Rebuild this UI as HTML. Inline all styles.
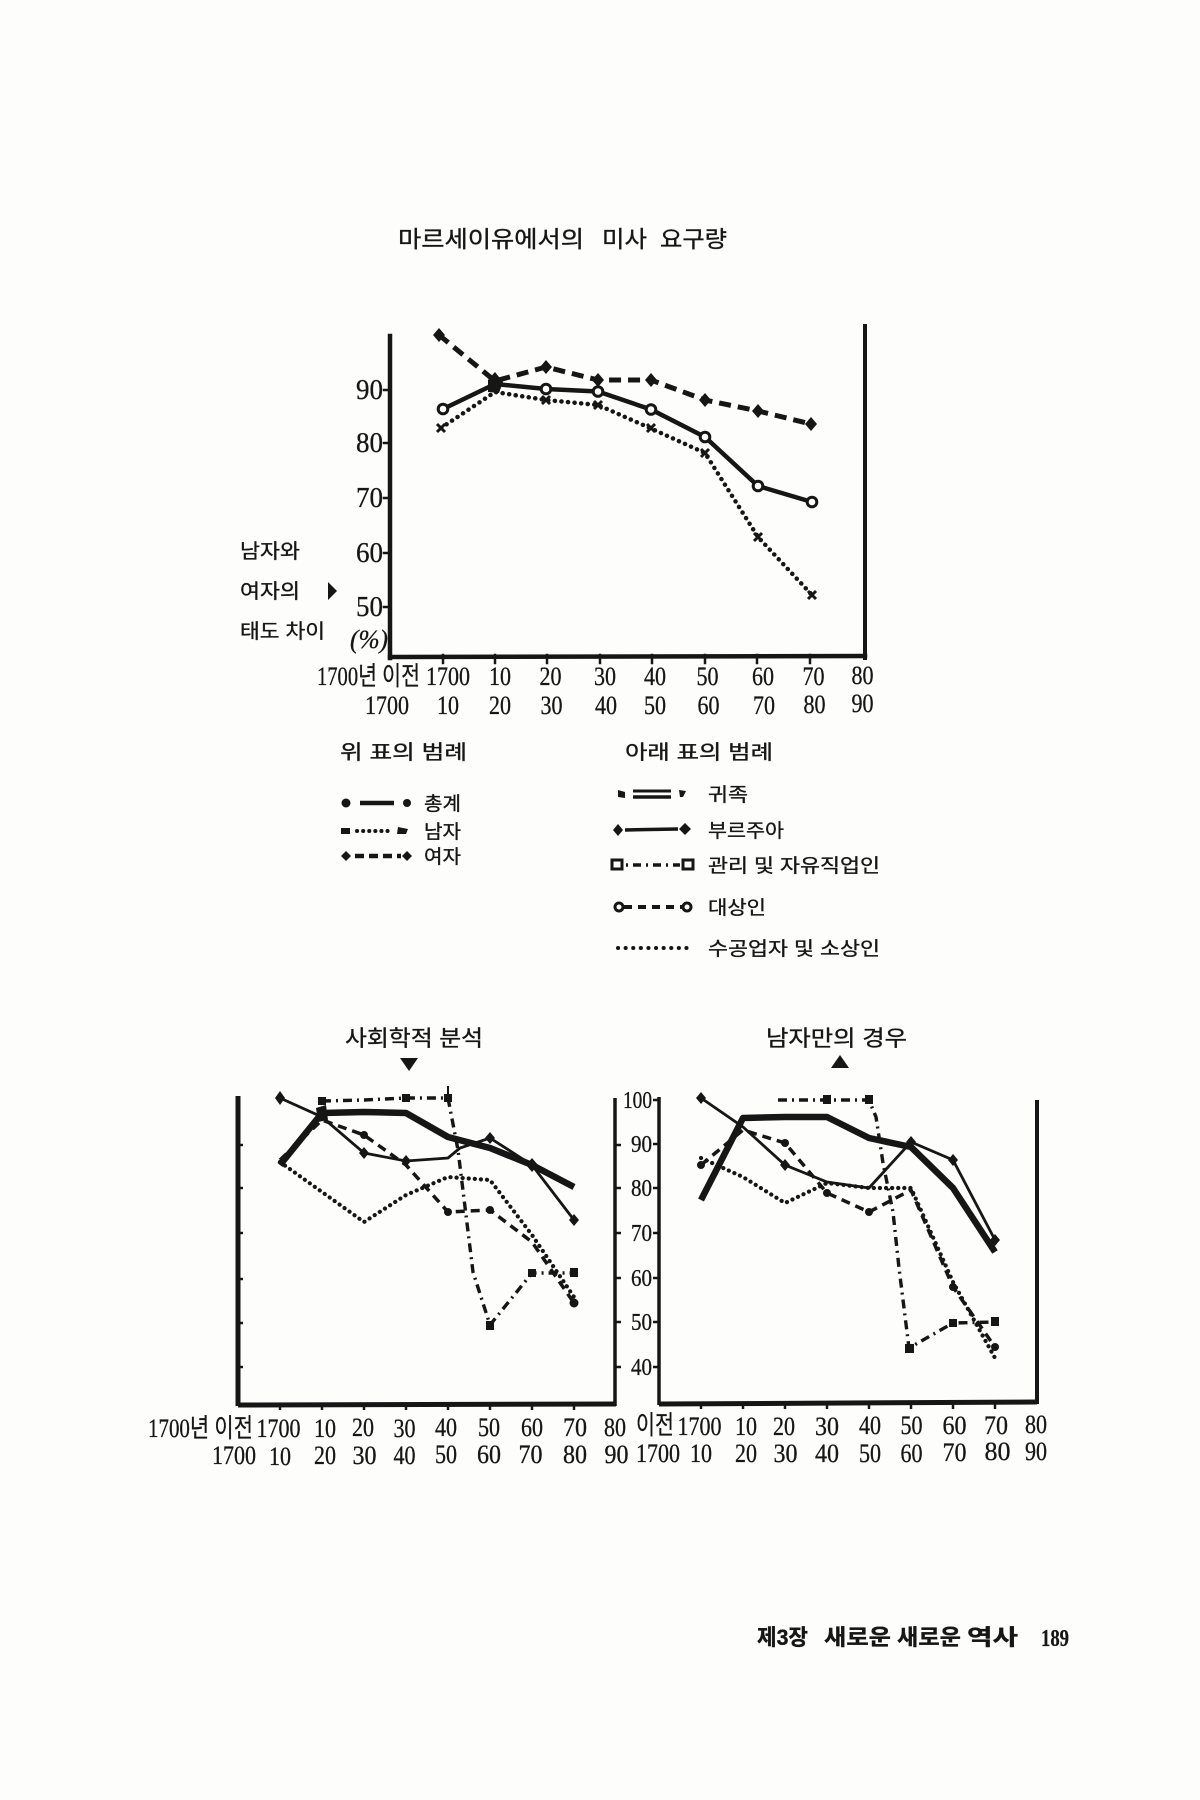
<!DOCTYPE html>
<html><head><meta charset="utf-8"><style>
html,body{margin:0;padding:0;background:#fdfdfc;}
svg{display:block;}
.k{font-family:"Liberation Sans","Noto Sans CJK KR",sans-serif;fill:#161616;stroke:#161616;stroke-width:0.35;}
.n{font-family:"Liberation Serif","Noto Sans CJK KR",serif;fill:#161616;stroke:#161616;stroke-width:0.3;}
</style></head><body>
<svg width="1200" height="1800" viewBox="0 0 1200 1800" xmlns="http://www.w3.org/2000/svg">
<rect width="1200" height="1800" fill="#fdfdfc"/>

<!-- TOP TITLE -->
<text class="k" x="398" y="247" font-size="23" textLength="186" lengthAdjust="spacingAndGlyphs">마르세이유에서의</text>
<text class="k" x="602" y="247" font-size="23" textLength="45" lengthAdjust="spacingAndGlyphs">미사</text>
<text class="k" x="660" y="247" font-size="23" textLength="67" lengthAdjust="spacingAndGlyphs">요구량</text>

<!-- TOP CHART AXES -->
<g stroke="#161616" fill="none" stroke-linecap="square">
<line x1="390" y1="336" x2="390" y2="658" stroke-width="4.5"/>
<line x1="865" y1="326" x2="865" y2="658" stroke-width="4"/>
<line x1="390" y1="657" x2="865" y2="656" stroke-width="4.5"/>
<g stroke-width="2.5">
<line x1="384" y1="390" x2="390" y2="390"/><line x1="384" y1="443" x2="390" y2="443"/>
<line x1="384" y1="498" x2="390" y2="498"/><line x1="384" y1="553" x2="390" y2="553"/>
<line x1="384" y1="607" x2="390" y2="607"/>
<line x1="443" y1="655" x2="443" y2="663"/><line x1="495" y1="655" x2="495" y2="663"/>
<line x1="547" y1="655" x2="547" y2="663"/><line x1="600" y1="655" x2="600" y2="663"/>
<line x1="652" y1="655" x2="652" y2="663"/><line x1="705" y1="655" x2="705" y2="663"/>
<line x1="757" y1="655" x2="757" y2="663"/><line x1="810" y1="655" x2="810" y2="663"/>
</g>
</g>

<!-- top y labels -->
<g class="n" font-size="28" text-anchor="end">
<text x="383" y="399" textLength="27" lengthAdjust="spacingAndGlyphs">90</text>
<text x="383" y="452" textLength="27" lengthAdjust="spacingAndGlyphs">80</text>
<text x="383" y="507" textLength="27" lengthAdjust="spacingAndGlyphs">70</text>
<text x="383" y="562" textLength="27" lengthAdjust="spacingAndGlyphs">60</text>
<text x="383" y="616" textLength="27" lengthAdjust="spacingAndGlyphs">50</text>
</g>
<text class="n" x="350" y="648" font-size="26" font-style="italic" textLength="38" lengthAdjust="spacingAndGlyphs">(%)</text>

<!-- left labels -->
<text class="k" x="240" y="558" font-size="20" textLength="60" lengthAdjust="spacingAndGlyphs">남자와</text>
<text class="k" x="240" y="598" font-size="20" textLength="60" lengthAdjust="spacingAndGlyphs">여자의</text>
<path d="M328,582 L337,591 L328,600 Z" fill="#161616"/>
<text class="k" x="240" y="638" font-size="20" textLength="85" lengthAdjust="spacingAndGlyphs">태도 차이</text>

<!-- top series -->
<polyline points="439,335 495,381 546,367 598,380 651,380 705,400 758,411 811,424" fill="none" stroke="#161616" stroke-width="5" stroke-dasharray="12 7"/>
<polyline points="441,428 495,392 546,400 598,405 651,428.5 705,453 758,537 812,595" fill="none" stroke="#161616" stroke-width="4.5" stroke-dasharray="0.1 6.5" stroke-linecap="round"/>
<polyline points="443,409 495,384 546,389 598,391.5 651,409.5 705,437 758,486 812,502" fill="none" stroke="#161616" stroke-width="4.5"/>
<!-- female diamonds -->
<g fill="#161616">
<path d="M439,328 L445,335 L439,342 L433,335Z"/>
<path d="M546,360 L552,367 L546,374 L540,367Z"/>
<path d="M598,373 L604,380 L598,387 L592,380Z"/>
<path d="M651,373 L657,380 L651,387 L645,380Z"/>
<path d="M705,393 L711,400 L705,407 L699,400Z"/>
<path d="M758,404 L764,411 L758,418 L752,411Z"/>
<path d="M811,417 L817,424 L811,431 L805,424Z"/>
<path d="M488,380 L495,372 L503,382 L499,393 L488,392Z"/>
</g>
<!-- male x marks -->
<g stroke="#161616" stroke-width="3">
<path d="M437,424 L445,432 M445,424 L437,432"/>
<path d="M542,396 L550,404 M550,396 L542,404"/>
<path d="M594,401 L602,409 M602,401 L594,409"/>
<path d="M647,424 L655,432 M655,424 L647,432"/>
<path d="M701,449 L709,457 M709,449 L701,457"/>
<path d="M754,533 L762,541 M762,533 L754,541"/>
<path d="M808,591 L816,599 M816,591 L808,599"/>
</g>
<!-- total circles -->
<g fill="#fdfdfc" stroke="#161616" stroke-width="3">
<circle cx="443" cy="409" r="4.8"/>
<circle cx="546" cy="389" r="4.8"/>
<circle cx="598" cy="391.5" r="4.8"/>
<circle cx="651" cy="409.5" r="4.8"/>
<circle cx="705" cy="437" r="4.8"/>
<circle cx="758" cy="486" r="4.8"/>
<circle cx="812" cy="502" r="4.8"/>
</g>

<!-- top x labels -->
<g class="n" font-size="26" text-anchor="middle">
<text x="448" y="685" textLength="44" lengthAdjust="spacingAndGlyphs">1700</text>
<text x="500" y="685" textLength="22" lengthAdjust="spacingAndGlyphs">10</text>
<text x="550.5" y="685" textLength="22" lengthAdjust="spacingAndGlyphs">20</text>
<text x="605" y="685" textLength="22" lengthAdjust="spacingAndGlyphs">30</text>
<text x="655" y="685" textLength="22" lengthAdjust="spacingAndGlyphs">40</text>
<text x="707.5" y="685" textLength="22" lengthAdjust="spacingAndGlyphs">50</text>
<text x="763" y="685" textLength="22" lengthAdjust="spacingAndGlyphs">60</text>
<text x="813.5" y="685" textLength="22" lengthAdjust="spacingAndGlyphs">70</text>
<text x="862.5" y="684" textLength="22" lengthAdjust="spacingAndGlyphs">80</text>
<text x="387" y="714" textLength="44" lengthAdjust="spacingAndGlyphs">1700</text>
<text x="448" y="714" textLength="22" lengthAdjust="spacingAndGlyphs">10</text>
<text x="500" y="714" textLength="22" lengthAdjust="spacingAndGlyphs">20</text>
<text x="551.5" y="714" textLength="22" lengthAdjust="spacingAndGlyphs">30</text>
<text x="606" y="714" textLength="22" lengthAdjust="spacingAndGlyphs">40</text>
<text x="655" y="714" textLength="22" lengthAdjust="spacingAndGlyphs">50</text>
<text x="708.5" y="714" textLength="22" lengthAdjust="spacingAndGlyphs">60</text>
<text x="764" y="714" textLength="22" lengthAdjust="spacingAndGlyphs">70</text>
<text x="814.5" y="713" textLength="22" lengthAdjust="spacingAndGlyphs">80</text>
<text x="862.5" y="712" textLength="22" lengthAdjust="spacingAndGlyphs">90</text>
</g>
<text class="n" x="317" y="685" font-size="26" textLength="103" lengthAdjust="spacingAndGlyphs">1700년 이전</text>

<!-- LEGENDS -->
<text class="k" x="340" y="759" font-size="20" textLength="127" lengthAdjust="spacingAndGlyphs">위 표의 범례</text>
<text class="k" x="625" y="759" font-size="20" textLength="148" lengthAdjust="spacingAndGlyphs">아래 표의 범례</text>

<g stroke="#161616" fill="#161616">
<!-- 총계 -->
<circle cx="346" cy="803" r="4.5" stroke="none"/>
<line x1="360" y1="803" x2="394" y2="803" stroke-width="4.5"/>
<circle cx="407" cy="803" r="4" stroke="none"/>
<!-- 남자 -->
<path d="M341,828 L350,828 L350,834 L341,834Z" stroke="none"/>
<line x1="357" y1="831" x2="393" y2="831" stroke-width="4" stroke-dasharray="0.1 6" stroke-linecap="round"/>
<path d="M398,827 L408,829 L406,834 L397,834Z" stroke="none"/>
<!-- 여자 -->
<path d="M346,851 L351,856 L346,861 L341,856Z" stroke="none"/>
<line x1="355" y1="856" x2="401" y2="856" stroke-width="4.5" stroke-dasharray="9 5"/>
<path d="M407,851 L412,856 L407,861 L402,856Z" stroke="none"/>
<!-- 귀족 -->
<path d="M618,790 L625,792 L625,798 L618,797Z" stroke="none"/>
<line x1="633" y1="791" x2="671" y2="791" stroke-width="3"/>
<line x1="633" y1="797" x2="671" y2="797" stroke-width="3.5"/>
<path d="M679,790 L686,791 L683,797 L680,797Z" stroke="none"/>
<!-- 부르주아 -->
<path d="M618,824 L623,830 L618,836 L613,830Z" stroke="none"/>
<line x1="625" y1="830" x2="678" y2="829" stroke-width="3.5"/>
<path d="M685,823 L691,829 L685,835 L679,829Z" stroke="none"/>
<!-- 관리 -->
<rect x="612" y="860" width="10" height="9" fill="#fdfdfc" stroke-width="3"/>
<line x1="626" y1="865" x2="680" y2="865" stroke-width="3.5" stroke-dasharray="2 5 8 5"/>
<rect x="683" y="860" width="10" height="9" fill="#fdfdfc" stroke-width="3"/>
<!-- 대상인 -->
<circle cx="619" cy="907" r="4" fill="#fdfdfc" stroke-width="3"/>
<line x1="624" y1="907" x2="682" y2="907" stroke-width="4" stroke-dasharray="8 6"/>
<circle cx="687" cy="907" r="4" fill="#fdfdfc" stroke-width="3"/>
<!-- 수공업 -->
<line x1="618" y1="948" x2="693" y2="948" stroke-width="4" stroke-dasharray="0.1 7.5" stroke-linecap="round"/>
</g>
<g class="k" font-size="19">
<text x="424" y="810" textLength="37" lengthAdjust="spacingAndGlyphs">총계</text>
<text x="424" y="838" textLength="37" lengthAdjust="spacingAndGlyphs">남자</text>
<text x="424" y="863" textLength="37" lengthAdjust="spacingAndGlyphs">여자</text>
<text x="708" y="801" textLength="40" lengthAdjust="spacingAndGlyphs">귀족</text>
<text x="708" y="837" textLength="76" lengthAdjust="spacingAndGlyphs">부르주아</text>
<text x="708" y="872" textLength="172" lengthAdjust="spacingAndGlyphs">관리 및 자유직업인</text>
<text x="708" y="914" textLength="58" lengthAdjust="spacingAndGlyphs">대상인</text>
<text x="708" y="955" textLength="172" lengthAdjust="spacingAndGlyphs">수공업자 및 소상인</text>
</g>

<!-- BOTTOM TITLES -->
<text class="k" x="345" y="1046" font-size="22" textLength="138" lengthAdjust="spacingAndGlyphs">사회학적 분석</text>
<path d="M400,1058 L418,1058 L409,1071 Z" fill="#161616"/>
<text class="k" x="766" y="1046" font-size="22" textLength="141" lengthAdjust="spacingAndGlyphs">남자만의 경우</text>
<path d="M840,1055 L849,1068 L831,1068 Z" fill="#161616"/>

<!-- BOTTOM AXES -->
<g stroke="#161616" fill="none">
<line x1="238" y1="1096" x2="238" y2="1406" stroke-width="5"/>
<line x1="615" y1="1098" x2="615" y2="1406" stroke-width="3.5"/>
<line x1="238" y1="1405" x2="616" y2="1404" stroke-width="5"/>
<line x1="659" y1="1097" x2="659" y2="1405" stroke-width="3.5"/>
<line x1="1037" y1="1100" x2="1037" y2="1404" stroke-width="4"/>
<line x1="659" y1="1404" x2="1037" y2="1402" stroke-width="5"/>
<g stroke-width="2.5">
<line x1="238" y1="1145" x2="243" y2="1145"/><line x1="238" y1="1188" x2="243" y2="1188"/>
<line x1="238" y1="1233" x2="243" y2="1233"/><line x1="238" y1="1279" x2="243" y2="1279"/>
<line x1="238" y1="1323" x2="243" y2="1323"/><line x1="238" y1="1367" x2="243" y2="1367"/>
<line x1="615" y1="1145" x2="621" y2="1145"/><line x1="615" y1="1188" x2="621" y2="1188"/>
<line x1="615" y1="1233" x2="621" y2="1233"/><line x1="615" y1="1278" x2="621" y2="1278"/>
<line x1="615" y1="1322" x2="621" y2="1322"/><line x1="615" y1="1367" x2="621" y2="1367"/>
<line x1="653" y1="1100" x2="659" y2="1100"/>
<line x1="653" y1="1144" x2="659" y2="1144"/><line x1="653" y1="1188" x2="659" y2="1188"/>
<line x1="653" y1="1233" x2="659" y2="1233"/><line x1="653" y1="1278" x2="659" y2="1278"/>
<line x1="653" y1="1322" x2="659" y2="1322"/><line x1="653" y1="1367" x2="659" y2="1367"/>
<line x1="280" y1="1403" x2="280" y2="1410"/><line x1="322" y1="1403" x2="322" y2="1410"/>
<line x1="364" y1="1403" x2="364" y2="1410"/><line x1="406" y1="1403" x2="406" y2="1410"/>
<line x1="448" y1="1403" x2="448" y2="1410"/><line x1="490" y1="1403" x2="490" y2="1410"/>
<line x1="532" y1="1403" x2="532" y2="1410"/><line x1="574" y1="1403" x2="574" y2="1410"/>
<line x1="701" y1="1402" x2="701" y2="1409"/><line x1="743" y1="1402" x2="743" y2="1409"/>
<line x1="785" y1="1402" x2="785" y2="1409"/><line x1="827" y1="1402" x2="827" y2="1409"/>
<line x1="869" y1="1402" x2="869" y2="1409"/><line x1="911" y1="1402" x2="911" y2="1409"/>
<line x1="953" y1="1402" x2="953" y2="1409"/><line x1="995" y1="1402" x2="995" y2="1409"/>
</g>
</g>

<!-- bottom y labels -->
<g class="n" font-size="24" text-anchor="end">
<text x="652" y="1108" textLength="29" lengthAdjust="spacingAndGlyphs">100</text>
<text x="652" y="1152" textLength="21" lengthAdjust="spacingAndGlyphs">90</text>
<text x="652" y="1196" textLength="21" lengthAdjust="spacingAndGlyphs">80</text>
<text x="652" y="1241" textLength="21" lengthAdjust="spacingAndGlyphs">70</text>
<text x="652" y="1286" textLength="21" lengthAdjust="spacingAndGlyphs">60</text>
<text x="652" y="1330" textLength="21" lengthAdjust="spacingAndGlyphs">50</text>
<text x="652" y="1375" textLength="21" lengthAdjust="spacingAndGlyphs">40</text>
</g>

<!-- LEFT BOTTOM SERIES -->
<g fill="none" stroke="#161616">
<polyline points="280,1162 322,1192 364,1222 406,1195 448,1177 490,1180 532,1235 574,1297" stroke-width="4.2" stroke-dasharray="0.1 6" stroke-linecap="round"/>
<polyline points="280,1160 322,1120 364,1135 406,1165 448,1212 490,1210 532,1242 574,1303" stroke-width="3.5" stroke-dasharray="9 6"/>
<polyline points="322,1101 364,1100 406,1098 448,1098 458,1150 473,1272 490,1325 532,1273 574,1273" stroke-width="3.4" stroke-dasharray="9 5 2 5"/>
<line x1="448" y1="1086" x2="448" y2="1100" stroke-width="2"/>
<polyline points="280,1098 322,1117 364,1153 406,1161 448,1158 460,1148 490,1138 532,1165 574,1220" stroke-width="2.8"/>
<polyline points="280,1165 322,1113 364,1112 406,1113 448,1137 490,1148 532,1165 574,1187" stroke-width="6.5" stroke-linejoin="round"/>
</g>
<g fill="#161616">
<rect x="318" y="1097" width="8" height="8"/><rect x="402" y="1094" width="8" height="8"/><rect x="444" y="1094" width="8" height="8"/>
<rect x="486" y="1321" width="8" height="9"/><rect x="528" y="1269" width="8" height="8"/><rect x="570" y="1268" width="8" height="9"/>
<circle cx="364" cy="1135" r="4"/><circle cx="448" cy="1212" r="4"/><circle cx="490" cy="1210" r="4"/><circle cx="574" cy="1303" r="4.5"/>
<path d="M280,1091 L285,1098 L280,1105 L275,1098Z"/><path d="M364,1147 L369,1153 L364,1159 L359,1153Z"/>
<path d="M406,1155 L411,1161 L406,1167 L401,1161Z"/><path d="M490,1132 L495,1138 L490,1144 L485,1138Z"/>
<path d="M532,1158 L538,1165 L532,1172 L526,1165Z"/><path d="M574,1214 L579,1220 L574,1226 L569,1220Z"/>
<path d="M316,1108 L326,1105 L328,1120 L318,1122Z"/>
</g>

<!-- RIGHT BOTTOM SERIES -->
<g fill="none" stroke="#161616">
<polyline points="701,1158 743,1177 785,1203 827,1183 869,1188 911,1188 953,1282 995,1358" stroke-width="4.2" stroke-dasharray="0.1 6" stroke-linecap="round"/>
<polyline points="701,1165 743,1130 785,1143 827,1193 869,1212 911,1190 953,1287 995,1347" stroke-width="3.5" stroke-dasharray="9 6"/>
<polyline points="778,1100 827,1100 869,1100 876,1117 883,1163 893,1212 899,1268 909,1348 953,1323 995,1322" stroke-width="3.4" stroke-dasharray="9 5 2 5"/>
<polyline points="701,1098 743,1127 785,1165 827,1182 869,1188 911,1142 953,1160 995,1240" stroke-width="2.8"/>
<polyline points="701,1200 743,1118 785,1117 827,1117 869,1138 911,1147 953,1188 995,1252" stroke-width="6.5" stroke-linejoin="round"/>
</g>
<g fill="#161616">
<rect x="823" y="1095" width="8" height="9"/><rect x="865" y="1095" width="8" height="9"/>
<rect x="905" y="1344" width="9" height="9"/><rect x="949" y="1319" width="8" height="8"/><rect x="991" y="1317" width="8" height="9"/>
<circle cx="701" cy="1165" r="4"/><circle cx="785" cy="1143" r="4"/><circle cx="827" cy="1193" r="4"/><circle cx="869" cy="1212" r="4"/>
<circle cx="953" cy="1287" r="4"/><circle cx="995" cy="1347" r="4"/>
<path d="M701,1092 L706,1098 L701,1104 L696,1098Z"/><path d="M785,1159 L790,1165 L785,1171 L780,1165Z"/>
<path d="M911,1136 L916,1142 L911,1148 L906,1142Z"/><path d="M953,1154 L958,1160 L953,1166 L948,1160Z"/>
<path d="M995,1234 L1000,1240 L995,1246 L990,1240Z"/>
</g>

<!-- bottom x labels -->
<g class="n" font-size="26" text-anchor="middle">
<text x="278.5" y="1437" textLength="44" lengthAdjust="spacingAndGlyphs">1700</text>
<text x="325" y="1437" textLength="22" lengthAdjust="spacingAndGlyphs">10</text>
<text x="363" y="1436" textLength="22" lengthAdjust="spacingAndGlyphs">20</text>
<text x="404.5" y="1437" textLength="22" lengthAdjust="spacingAndGlyphs">30</text>
<text x="446" y="1436" textLength="22" lengthAdjust="spacingAndGlyphs">40</text>
<text x="489" y="1436" textLength="22" lengthAdjust="spacingAndGlyphs">50</text>
<text x="532" y="1436" textLength="22" lengthAdjust="spacingAndGlyphs">60</text>
<text x="575" y="1436" textLength="24" lengthAdjust="spacingAndGlyphs">70</text>
<text x="615" y="1436" textLength="22" lengthAdjust="spacingAndGlyphs">80</text>
<text x="234" y="1464" textLength="44" lengthAdjust="spacingAndGlyphs">1700</text>
<text x="280" y="1465" textLength="22" lengthAdjust="spacingAndGlyphs">10</text>
<text x="325" y="1464" textLength="22" lengthAdjust="spacingAndGlyphs">20</text>
<text x="364.5" y="1464" textLength="24" lengthAdjust="spacingAndGlyphs">30</text>
<text x="404.5" y="1464" textLength="22" lengthAdjust="spacingAndGlyphs">40</text>
<text x="446" y="1463" textLength="22" lengthAdjust="spacingAndGlyphs">50</text>
<text x="489" y="1463" textLength="24" lengthAdjust="spacingAndGlyphs">60</text>
<text x="530.5" y="1463" textLength="24" lengthAdjust="spacingAndGlyphs">70</text>
<text x="575" y="1463" textLength="24" lengthAdjust="spacingAndGlyphs">80</text>
<text x="616.5" y="1463" textLength="24" lengthAdjust="spacingAndGlyphs">90</text>

<text x="699.5" y="1435" textLength="44" lengthAdjust="spacingAndGlyphs">1700</text>
<text x="746" y="1435" textLength="22" lengthAdjust="spacingAndGlyphs">10</text>
<text x="784" y="1435" textLength="22" lengthAdjust="spacingAndGlyphs">20</text>
<text x="827" y="1435" textLength="24" lengthAdjust="spacingAndGlyphs">30</text>
<text x="870" y="1434" textLength="22" lengthAdjust="spacingAndGlyphs">40</text>
<text x="911.5" y="1434" textLength="22" lengthAdjust="spacingAndGlyphs">50</text>
<text x="954.5" y="1434" textLength="24" lengthAdjust="spacingAndGlyphs">60</text>
<text x="996" y="1434" textLength="24" lengthAdjust="spacingAndGlyphs">70</text>
<text x="1036" y="1433" textLength="22" lengthAdjust="spacingAndGlyphs">80</text>
<text x="658" y="1462" textLength="44" lengthAdjust="spacingAndGlyphs">1700</text>
<text x="701" y="1462" textLength="22" lengthAdjust="spacingAndGlyphs">10</text>
<text x="746" y="1462" textLength="22" lengthAdjust="spacingAndGlyphs">20</text>
<text x="785.5" y="1462" textLength="24" lengthAdjust="spacingAndGlyphs">30</text>
<text x="827" y="1462" textLength="24" lengthAdjust="spacingAndGlyphs">40</text>
<text x="870" y="1462" textLength="22" lengthAdjust="spacingAndGlyphs">50</text>
<text x="911.5" y="1462" textLength="22" lengthAdjust="spacingAndGlyphs">60</text>
<text x="954.5" y="1461" textLength="24" lengthAdjust="spacingAndGlyphs">70</text>
<text x="997.5" y="1460" textLength="26" lengthAdjust="spacingAndGlyphs">80</text>
<text x="1036" y="1460" textLength="22" lengthAdjust="spacingAndGlyphs">90</text>
</g>
<text class="n" x="148" y="1437" font-size="26" textLength="105" lengthAdjust="spacingAndGlyphs">1700년 이전</text>
<text class="n" x="636" y="1434" font-size="26" textLength="38" lengthAdjust="spacingAndGlyphs">이전</text>

<!-- FOOTER -->
<g class="k" font-size="22" font-weight="bold">
<text x="757" y="1645" textLength="51" lengthAdjust="spacingAndGlyphs">제3장</text>
<text x="824" y="1645" textLength="67" lengthAdjust="spacingAndGlyphs">새로운</text>
<text x="897" y="1645" textLength="64" lengthAdjust="spacingAndGlyphs">새로운</text>
<text x="967" y="1645" textLength="51" lengthAdjust="spacingAndGlyphs">역사</text>
</g>
<text class="n" x="1041" y="1646" font-size="24" font-weight="bold" textLength="28" lengthAdjust="spacingAndGlyphs">189</text>
</svg>
</body></html>
